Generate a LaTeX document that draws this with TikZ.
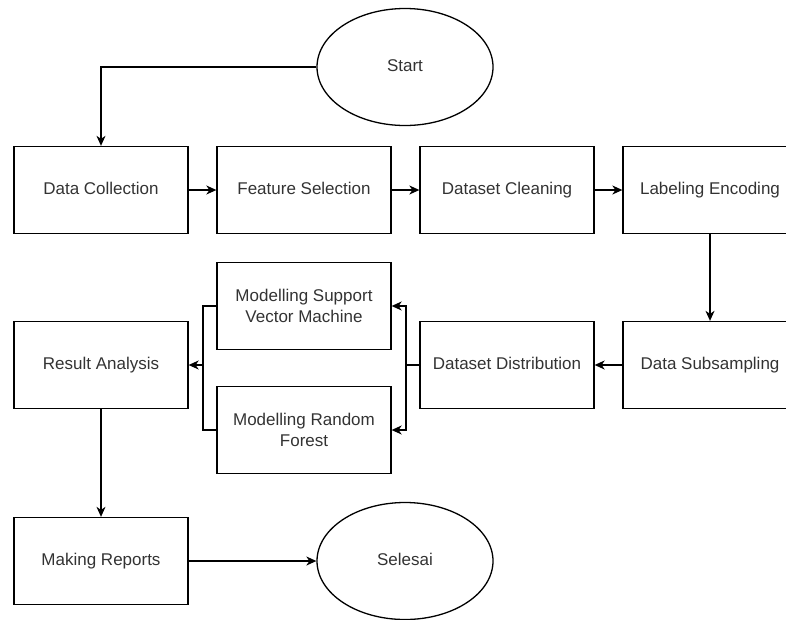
\documentclass[tikz,border=0pt]{standalone}
\usepackage{fontspec}
\setmainfont{Liberation Sans}
\usetikzlibrary{arrows.meta,shapes.geometric}

\begin{document}
\begin{tikzpicture}[x=1pt, y=-1pt, line width=1.3pt,
	procbox/.style={draw, minimum width=174pt, minimum height=87pt, inner sep=2pt, align=center, text height=12.5pt, text depth=3.5pt, text=black!80, font=\fontsize{17}{21}\selectfont},
	twoline/.style={text height={}, text depth={}},
	termnode/.style={draw, ellipse, minimum width=176pt, minimum height=117pt, inner sep=0pt, text height=12.5pt, text depth=3.5pt, text=black!80, font=\fontsize{17}{21}\selectfont},
	flow/.style={-{Stealth[length=10pt, width=9pt, inset=3pt]}}]
	\clip (0,0) rectangle (786,619);
	\useasboundingbox (0,0) rectangle (786,619);
	% terminals
	\node[termnode] (start) at (405,67) {Start};
	\node[termnode] (finish) at (405,561) {Selesai};
	% first row
	\node[procbox] (collect) at (101,190) {Data Collection};
	\node[procbox] (feature) at (304,190) {Feature Selection};
	\node[procbox] (clean) at (507,190) {Dataset Cleaning};
	\node[procbox] (encode) at (710,190) {Labeling Encoding};
	% second row
	\node[procbox] (subsamp) at (710,365) {Data Subsampling};
	\node[procbox] (distrib) at (507,365) {Dataset Distribution};
	\node[procbox, twoline] (svm) at (304,306) {Modelling Support\\Vector Machine};
	\node[procbox, twoline] (rforest) at (304,430) {Modelling Random\\Forest};
	\node[procbox] (result) at (101,365) {Result Analysis};
	\node[procbox] (report) at (101,561) {Making Reports};
	\coordinate (split) at (406,365);
	\coordinate (merge) at (203,365);
	% connectors
	\draw[flow] (start.west) -| (collect.north);
	\draw[flow] (collect.east) -- (feature.west);
	\draw[flow] (feature.east) -- (clean.west);
	\draw[flow] (clean.east) -- (encode.west);
	\draw[flow] (encode.south) -- (subsamp.north);
	\draw[flow] (subsamp.west) -- (distrib.east);
	\draw (distrib.west) -- (split);
	\draw[flow] (split) |- (svm.east);
	\draw[flow] (split) |- (rforest.east);
	\draw (svm.west) -| (merge);
	\draw (rforest.west) -| (merge);
	\draw[flow] (merge) -- (result.east);
	\draw[flow] (result.south) -- (report.north);
	\draw[flow] (report.east) -- (finish.west);
\end{tikzpicture}
\end{document}
